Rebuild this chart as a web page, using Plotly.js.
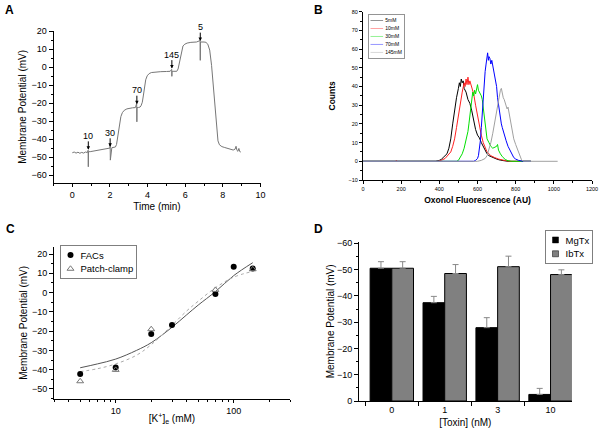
<!DOCTYPE html>
<html>
<head>
<meta charset="utf-8">
<script src="https://cdn.plot.ly/plotly-3.0.1.min.js"></script>
<style>html,body{margin:0;padding:0;background:#fff}#chart{width:600px;height:435px}</style>
</head>
<body>
<div id="chart"></div>
<script>
// ---------- Panel A: membrane potential trace ----------
const timeMin = [0.00,0.10,0.20,0.30,0.40,0.50,0.60,0.70,0.80,0.84,0.85,0.86,0.95,1.10,1.30,1.50,1.70,1.85,2.00,2.01,2.02,2.10,2.20,2.29,2.35,2.40,2.46,2.52,2.58,2.66,2.76,2.90,3.05,3.20,3.35,3.42,3.43,3.44,3.52,3.60,3.65,3.72,3.78,3.84,3.90,3.98,4.08,4.20,4.40,4.70,5.00,5.20,5.28,5.29,5.30,5.40,5.55,5.62,5.68,5.74,5.80,5.88,5.98,6.10,6.30,6.60,6.79,6.80,6.81,7.00,7.10,7.20,7.30,7.40,7.50,7.58,7.66,7.74,7.82,7.95,8.10,8.25,8.40,8.55,8.65,8.70,8.75,8.80,8.85,8.90,8.95];
const potentialA = [-47.6,-47.2,-47.8,-47.3,-47.9,-47.4,-47.8,-47.2,-47.5,-46.2,-55.4,-47.0,-47.0,-46.7,-46.3,-46.0,-45.6,-45.3,-45.0,-42.4,-51.7,-44.8,-44.6,-44.4,-43.0,-40.0,-35.0,-30.5,-27.5,-25.3,-24.0,-23.2,-22.8,-22.6,-22.5,-20.2,-30.4,-22.5,-22.4,-22.2,-21.5,-19.5,-15.5,-10.5,-7.0,-4.8,-3.6,-3.0,-2.7,-2.5,-2.4,-2.3,-1.2,-5.1,-2.3,-2.3,-2.3,-1.0,2.0,6.5,9.8,11.8,12.8,13.4,13.8,14.0,14.8,3.8,14.0,14.0,13.8,12.8,9.5,1.0,-12.0,-25.0,-35.5,-41.0,-43.2,-44.2,-44.7,-45.2,-45.8,-46.1,-45.6,-44.0,-46.3,-46.8,-45.2,-47.0,-47.2];
const stepLabels = ['10','30','70','145','5'];
const stepTimes = [0.85, 2.01, 3.43, 5.29, 6.80];
const stepLevels = [-46.0, -44.3, -20.6, -0.8, 14.5];

// ---------- Panel B: oxonol fluorescence histograms ----------
const seriesB = ['5mM','10mM','30mM','70mM','145mM'];
const x5mM = [0,380,400,410,420,430,440,450,460,470,480,490,500,505,510,515,520,525,530,540,550,560,570,580,590,600,610,620,630,640,650,660,670,680,700,720,760,880];
const y5mM = [0,0,0.5,1,2,3,4,7,12,20,28,34,39,42,40,44,42,43,39,37,33,31,27,21,17,14,12.5,10,8,5.5,4,3,2.5,2,1.2,0.6,0,0];
const x10mM = [0,170,175,180,390,410,430,450,460,470,480,490,500,510,520,530,535,540,545,550,555,560,570,580,590,600,610,620,630,640,650,660,670,690,710,740,770,880];
const y10mM = [0,0,0.6,0,0,0.5,1.5,3.5,5,8,12,18,25,32,37,42,40,44,41,45,41,43,39,36,30,24,19,14,10,7,5,4,3,2,1.2,0.5,0,0];
const x30mM = [0,490,500,510,520,530,540,550,555,560,565,570,575,580,585,590,595,600,605,610,615,620,625,630,635,640,645,650,660,670,680,690,700,705,710,720,730,745,760,780,880];
const y30mM = [0,0,0.5,2,4,7,11,16,20,25,30,33,37,35,38,36,40,41,38,37,36,35,33,28,24,19,15,12,10,8,7,7.5,8,9,6,4,2.5,1,0.3,0,0];
const x70mM = [0,580,590,600,605,610,615,620,625,630,635,640,645,650,653,657,660,665,670,675,680,685,690,695,700,705,710,715,720,725,730,735,740,750,760,770,780,790,800,815,840,880];
const y70mM = [0,0,0.5,1.5,3,6,11,18,27,35,42,48,52,57,58,54,56,55,52,54,51,49,46,44,40,34,30,26,23,20,18,16,14,11,8,6,3.5,2,1.2,0.5,0,0];
const x145mM = [0,600,620,640,650,660,670,680,690,700,710,715,720,725,730,735,740,745,750,755,760,765,770,775,780,790,800,810,820,830,840,1020];
const y145mM = [0,0,0.5,1.5,3,6,10,15,21,27,33,36,38,39,36,34,33,31,29,28,29,26,22,19,16,12,9,6,3.5,1,0,0];

// ---------- Panel C: potential vs [K+]e ----------
const kFacs = [5,10,20,30,70,100,145];
const vFacs = [-42.2,-38.9,-21.5,-16.8,-0.7,13.4,12.5];
const kPatch = [5,10,20,70,145];
const vPatch = [-46.0,-40.1,-19.0,1.4,12.1];
const kFit = [5,7,10,15,20,30,40,50,70,100,145];
const vFitFacs = [-39.0,-37.0,-34.5,-30.0,-26.0,-18.0,-11.5,-6.5,0.5,8.8,15.5];
const vFitPatch = [-41.0,-39.5,-37.0,-32.5,-27.0,-17.0,-9.5,-4.5,2.5,8.0,11.0];

// ---------- Panel D: toxins ----------
const toxinConc = ['0','1','3','10'];
const mgtxMean = [-50.5,-37.4,-27.9,-2.5];
const mgtxErr = [2.5,2.4,3.8,2.3];
const ibtxMean = [-50.5,-48.5,-51.1,-48.1];
const ibtxErr = [2.5,3.4,4.0,1.8];

const FONT = 'Liberation Sans, Arial, sans-serif';
function baseAxis(extra){
  return Object.assign({
    showline:true, linecolor:'#000', linewidth:1, mirror:false,
    ticks:'outside', ticklen:4, tickwidth:1, tickcolor:'#000',
    showgrid:false, zeroline:false, automargin:true,
    tickfont:{family:FONT, size:9, color:'#000'}
  }, extra);
}

const traces = [
  {x:timeMin, y:potentialA, type:'scatter', mode:'lines', xaxis:'x', yaxis:'y',
   line:{color:'#777', width:1}, showlegend:false, name:'trace'},

  {x:x5mM, y:y5mM, name:seriesB[0], type:'scatter', mode:'lines', xaxis:'x2', yaxis:'y2', line:{color:'#000000', width:1}, legend:'legend'},
  {x:x10mM, y:y10mM, name:seriesB[1], type:'scatter', mode:'lines', xaxis:'x2', yaxis:'y2', line:{color:'#ff2020', width:1}, legend:'legend'},
  {x:x30mM, y:y30mM, name:seriesB[2], type:'scatter', mode:'lines', xaxis:'x2', yaxis:'y2', line:{color:'#00e000', width:1}, legend:'legend'},
  {x:x70mM, y:y70mM, name:seriesB[3], type:'scatter', mode:'lines', xaxis:'x2', yaxis:'y2', line:{color:'#0000ff', width:1}, legend:'legend'},
  {x:x145mM, y:y145mM, name:seriesB[4], type:'scatter', mode:'lines', xaxis:'x2', yaxis:'y2', line:{color:'#a0a0a0', width:1}, legend:'legend'},

  {x:kFit, y:vFitFacs, type:'scatter', mode:'lines', xaxis:'x3', yaxis:'y3', line:{color:'#555', width:1, shape:'spline'}, showlegend:false, name:'FACs fit'},
  {x:kFit, y:vFitPatch, type:'scatter', mode:'lines', xaxis:'x3', yaxis:'y3', line:{color:'#aaa', width:1, dash:'dot', shape:'spline'}, showlegend:false, name:'Patch-clamp fit'},
  {x:kFacs, y:vFacs, name:'FACs', type:'scatter', mode:'markers', xaxis:'x3', yaxis:'y3', marker:{symbol:'circle', size:6, color:'#000'}, legend:'legend2'},
  {x:kPatch, y:vPatch, name:'Patch-clamp', type:'scatter', mode:'markers', xaxis:'x3', yaxis:'y3', marker:{symbol:'triangle-up-open', size:6, color:'#777', line:{width:1}}, legend:'legend2'},

  {x:toxinConc, y:mgtxMean, name:'MgTx', type:'bar', xaxis:'x4', yaxis:'y4', legend:'legend3',
   marker:{color:'#000', line:{color:'#000', width:1}},
   error_y:{type:'data', symmetric:false, array:[0,0,0,0], arrayminus:mgtxErr, color:'#888', thickness:1, width:3}},
  {x:toxinConc, y:ibtxMean, name:'IbTx', type:'bar', xaxis:'x4', yaxis:'y4', legend:'legend3',
   marker:{color:'#808080', line:{color:'#000', width:1}},
   error_y:{type:'data', symmetric:false, array:[0,0,0,0], arrayminus:ibtxErr, color:'#888', thickness:1, width:3}}
];

const annotations = [];
stepLabels.forEach(function(lbl, i){
  annotations.push({x:stepTimes[i], y:stepLevels[i], xref:'x', yref:'y', text:lbl, showarrow:true,
    ax:0, ay:-14, arrowhead:2, arrowsize:0.7, arrowwidth:1, arrowcolor:'#000', borderpad:0,
    font:{family:FONT, size:9, color:'#000'}});
});
[['A',3,10],['B',312,10],['C',4,229],['D',312,229]].forEach(function(p){
  annotations.push({text:p[0], xref:'paper', yref:'paper', x:p[1]/600, y:1-p[2]/435, xanchor:'left', yanchor:'middle',
    showarrow:false, font:{family:FONT, size:12, color:'#000', weight:'bold'}});
});

const titleFont = {family:FONT, size:10, color:'#000'};
const layout = {
  width:600, height:435, margin:{l:0,r:0,t:0,b:0,autoexpand:false}, paper_bgcolor:'#fff', plot_bgcolor:'rgba(0,0,0,0)',
  font:{family:FONT, color:'#000'}, bargap:0.18, bargroupgap:0, barmode:'group',
  xaxis: baseAxis({domain:[53.5/600, 260.5/600], range:[-1,10], dtick:2, tick0:0, anchor:'y', ticklen:3,
    minor:{dtick:1, ticklen:2, tickcolor:'#000', ticks:'outside'},
    title:{text:'Time (min)', font:titleFont, standoff:3}}),
  yaxis: baseAxis({domain:[1-183.3/435, 1-30.5/435], range:[-64.6,20.4], dtick:10, tick0:0, anchor:'x',
    minor:{dtick:5, ticklen:2, tickcolor:'#000', ticks:'outside'},
    title:{text:'Membrane Potential (mV)', font:titleFont, standoff:2}}),
  xaxis2: baseAxis({domain:[363/600, 592/600], range:[0,1200], dtick:200, anchor:'y2', ticklen:3,
    tickfont:{family:FONT, size:5.5, color:'#000'},
    minor:{dtick:100, ticklen:2, tickcolor:'#000', ticks:'outside'},
    title:{text:'Oxonol Fluorescence (AU)', font:{family:FONT, size:8.5, color:'#000', weight:'bold'}, standoff:6}}),
  yaxis2: baseAxis({domain:[1-180/435, 1-11.7/435], range:[-10,80], dtick:10, anchor:'x2', ticklen:3,
    tickfont:{family:FONT, size:5.5, color:'#000'},
    minor:{dtick:5, ticklen:2, tickcolor:'#000', ticks:'outside'},
    title:{text:'Counts', font:{family:FONT, size:8.5, color:'#000', weight:'bold'}, standoff:11}}),
  xaxis3: baseAxis({domain:[54/600, 290/600], type:'log', range:[Math.log10(3), Math.log10(300)], anchor:'y3', ticklen:3,
    tickvals:[10,100], ticktext:['10','100'],
    minor:{tickvals:[3,4,5,6,7,8,9,20,30,40,50,60,70,80,90,200,300], ticklen:2, tickcolor:'#000', ticks:'outside'},
    title:{text:'[K<sup>+</sup>]<sub>e</sub> (mM)', font:titleFont, standoff:0}}),
  yaxis3: baseAxis({domain:[1-399/435, 1-246.7/435], range:[-55.2,23.8], dtick:10, tick0:0, anchor:'x3',
    minor:{dtick:5, ticklen:2, tickcolor:'#000', ticks:'outside'},
    title:{text:'Membrane Potential (mV)', font:titleFont, standoff:2}}),
  xaxis4: baseAxis({domain:[359/600, 571.7/600], type:'category', range:[-0.62,3.4], anchor:'y4', tickson:'boundaries',
    title:{text:'[Toxin] (nM)', font:titleFont, standoff:5}}),
  yaxis4: baseAxis({domain:[1-401/435, 1-241.7/435], range:[0,-60.6], dtick:10, tick0:0, anchor:'x4',
    minor:{dtick:5, ticklen:2, tickcolor:'#000', ticks:'outside'},
    title:{text:'Membrane Potential (mV)', font:titleFont, standoff:0}}),
  legend:{x:0.62, y:0.96, xanchor:'left', yanchor:'top', bgcolor:'#fff', bordercolor:'#000', borderwidth:1,
    font:{family:FONT, size:12, color:'#000'}, tracegroupgap:0},
  legend2:{x:0.1, y:0.43, xanchor:'left', yanchor:'top', bgcolor:'#fff', bordercolor:'#000', borderwidth:1,
    font:{family:FONT, size:19, color:'#000'}, tracegroupgap:0, itemsizing:'constant'},
  legend3:{x:0.6, y:0.43, xanchor:'left', yanchor:'top', bgcolor:'#fff', bordercolor:'#000', borderwidth:1,
    font:{family:FONT, size:19, color:'#000'}, tracegroupgap:0},
  annotations:annotations
};

function fitLegend(id, px, py, s, alignRight){
  var g = document.querySelector('g.' + id);
  if(!g) return;
  var bg = g.querySelector('rect.bg');
  var w = bg ? parseFloat(bg.getAttribute('width')) : g.getBBox().width;
  var x = alignRight ? px - w*s : px;
  g.setAttribute('transform', 'translate(' + x + ',' + py + ') scale(' + s + ')');
}

Plotly.newPlot('chart', traces, layout, {staticPlot:true, displayModeBar:false}).then(function(){
  fitLegend('legend', 368, 14, 0.42, false);
  fitLegend('legend2', 60, 245, 0.5, false);
  fitLegend('legend3', 592, 230, 0.5, true);
});
</script>
</body>
</html>
